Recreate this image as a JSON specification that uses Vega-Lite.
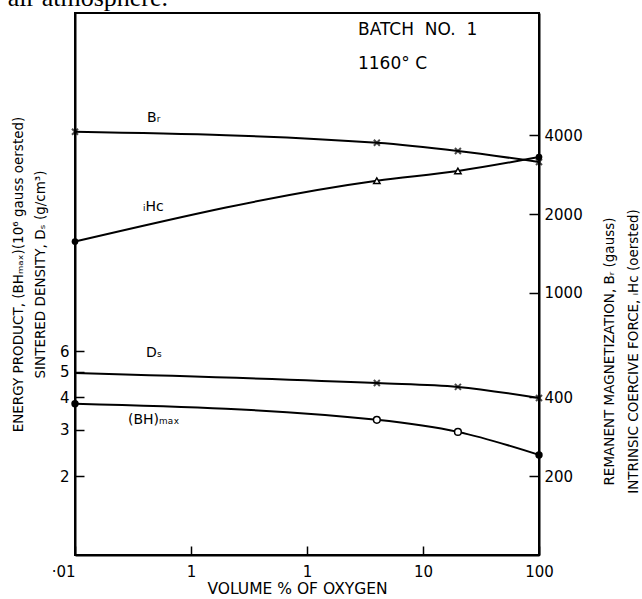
{
  "$schema": "https://vega.github.io/schema/vega-lite/v6.json",
  "width": 464,
  "height": 542,
  "autosize": "none",
  "padding": {"left": 75, "top": 13, "right": 103, "bottom": 44},
  "background": "white",
  "config": {
    "font": "DejaVu Sans",
    "view": {"stroke": "black", "strokeWidth": 2},
    "axis": {
      "domainColor": "black",
      "domainWidth": 2,
      "tickColor": "black",
      "tickWidth": 1.5,
      "grid": false,
      "labelColor": "black",
      "titleColor": "black",
      "labelFont": "DejaVu Sans",
      "titleFont": "DejaVu Sans",
      "labelFontSize": 15,
      "titleFontSize": 13.5,
      "titleFontWeight": "normal"
    }
  },
  "datasets": {
    "physical": [
      {"series": "Ds", "o2": 0.01, "value": 4.95},
      {"series": "Ds", "o2": 4, "value": 4.53},
      {"series": "Ds", "o2": 20, "value": 4.38},
      {"series": "Ds", "o2": 100, "value": 3.97},
      {"series": "BH", "o2": 0.01, "value": 3.78},
      {"series": "BH", "o2": 4, "value": 3.28},
      {"series": "BH", "o2": 20, "value": 2.95},
      {"series": "BH", "o2": 100, "value": 2.41}
    ],
    "magnetic": [
      {"series": "Br", "o2": 0.01, "value": 4120},
      {"series": "Br", "o2": 4, "value": 3740},
      {"series": "Br", "o2": 20, "value": 3480},
      {"series": "Br", "o2": 100, "value": 3160},
      {"series": "iHc", "o2": 0.01, "value": 1570},
      {"series": "iHc", "o2": 4, "value": 2680},
      {"series": "iHc", "o2": 20, "value": 2920},
      {"series": "iHc", "o2": 100, "value": 3300}
    ],
    "notes": [
      {"label": "BATCH\u00a0 NO.\u00a0 1", "x": 2.75, "y": 101, "kind": "head"},
      {"label": "1160° C", "x": 2.75, "y": 75, "kind": "head"},
      {"label": "Bᵣ", "x": 0.0418, "y": 46.5, "kind": "curve"},
      {"label": "ᵢHc", "x": 0.0386, "y": 21.3, "kind": "curve"},
      {"label": "Dₛ", "x": 0.041, "y": 5.9, "kind": "curve"},
      {"label": "(BH)ₘₐₓ", "x": 0.0286, "y": 3.28, "kind": "curve"}
    ],
    "page": [
      {"label": "air atmosphere.", "x": 0.0634, "y": 124}
    ]
  },
  "layer": [
    {
      "data": {"name": "physical"},
      "encoding": {
        "x": {
          "field": "o2",
          "type": "quantitative",
          "scale": {"type": "log", "domain": [0.01, 100], "nice": false},
          "axis": {
            "orient": "bottom",
            "values": [0.01, 0.1, 1, 10, 100],
            "labelExpr": "datum.value <= 0.011 ? '·01' : datum.value < 0.5 ? '1' : datum.value < 5 ? '1' : datum.value < 50 ? '10' : '100'",
            "labelAlign": {"condition": {"test": "datum.value <= 0.011", "value": "right"}, "value": "center"},
            "tickSize": -9,
            "labelPadding": 18,
            "title": "VOLUME % OF OXYGEN",
            "titleFontSize": 15.5,
            "titleBaseline": "middle",
            "titleY": 33,
            "titleX": 222
          }
        },
        "y": {
          "field": "value",
          "type": "quantitative",
          "scale": {"type": "log", "domain": [1, 117], "nice": false},
          "axis": {
            "orient": "left",
            "values": [2, 3, 4, 5, 6],
            "format": "d",
            "tickSize": -9,
            "labelPadding": 15,
            "title": ["ENERGY PRODUCT, (BHₘₐₓ)(10⁶ gauss oersted)", "SINTERED DENSITY, Dₛ (g/cm³)"],
            "titleLineHeight": 22,
            "titlePadding": 12,
            "titleY": 261
          }
        }
      },
      "layer": [
        {
          "mark": {"type": "line", "color": "black", "strokeWidth": 2, "interpolate": "monotone"},
          "encoding": {"detail": {"field": "series"}}
        },
        {
          "transform": [{"filter": "datum.series == 'Ds' && datum.o2 > 0.011"}],
          "mark": {"type": "point", "shape": "M-1,-1L1,1M-1,1L1,-1", "size": 36, "strokeWidth": 2, "color": "black", "filled": false}
        },
        {
          "transform": [{"filter": "datum.series == 'BH' && datum.o2 > 0.011 && datum.o2 < 99"}],
          "mark": {"type": "point", "shape": "circle", "size": 45, "fill": "white", "stroke": "black", "strokeWidth": 1.5, "filled": true, "opacity": 1}
        },
        {
          "transform": [{"filter": "datum.series == 'BH' && (datum.o2 < 0.011 || datum.o2 > 99)"}],
          "mark": {"type": "point", "shape": "circle", "size": 55, "color": "black", "filled": true, "opacity": 1}
        },
        {
          "data": {"name": "notes"},
          "mark": {"type": "text", "align": "left", "baseline": "middle", "color": "black", "font": "DejaVu Sans"},
          "encoding": {
            "x": {"field": "x", "type": "quantitative"},
            "y": {"field": "y", "type": "quantitative"},
            "text": {"field": "label"},
            "size": {"condition": {"test": "datum.kind == 'head'", "value": 17}, "value": 14}
          }
        },
        {
          "data": {"name": "page"},
          "mark": {"type": "text", "align": "right", "baseline": "alphabetic", "color": "black", "font": "Liberation Serif", "fontSize": 26},
          "encoding": {
            "x": {"field": "x", "type": "quantitative"},
            "y": {"field": "y", "type": "quantitative"},
            "text": {"field": "label"}
          }
        }
      ]
    },
    {
      "data": {"name": "magnetic"},
      "encoding": {
        "x": {"field": "o2", "type": "quantitative", "scale": {"type": "log", "domain": [0.01, 100], "nice": false}},
        "y": {
          "field": "value",
          "type": "quantitative",
          "scale": {"type": "log", "domain": [100, 11700], "nice": false},
          "axis": {
            "orient": "right",
            "values": [200, 400, 1000, 2000, 4000],
            "format": "d",
            "tickSize": -10,
            "labelPadding": 15,
            "title": ["REMANENT MAGNETIZATION, Bᵣ (gauss)", "INTRINSIC COERCIVE FORCE, ᵢHc (oersted)"],
            "titleAngle": -90,
            "titleLineHeight": 24,
            "titlePadding": 10,
            "titleY": 338
          }
        }
      },
      "layer": [
        {
          "mark": {"type": "line", "color": "black", "strokeWidth": 2, "interpolate": "monotone"},
          "encoding": {"detail": {"field": "series"}}
        },
        {
          "transform": [{"filter": "datum.series == 'Br'"}],
          "mark": {"type": "point", "shape": "M-1,-1L1,1M-1,1L1,-1", "size": 36, "strokeWidth": 2, "color": "black", "filled": false}
        },
        {
          "transform": [{"filter": "datum.series == 'iHc' && datum.o2 > 0.011 && datum.o2 < 99"}],
          "mark": {"type": "point", "shape": "triangle-up", "size": 40, "fill": "white", "stroke": "black", "strokeWidth": 1.5, "filled": true, "opacity": 1}
        },
        {
          "transform": [{"filter": "datum.series == 'iHc' && (datum.o2 < 0.011 || datum.o2 > 99)"}],
          "mark": {"type": "point", "shape": "circle", "size": 45, "color": "black", "filled": true, "opacity": 1}
        }
      ]
    }
  ],
  "resolve": {"scale": {"y": "independent"}}
}
